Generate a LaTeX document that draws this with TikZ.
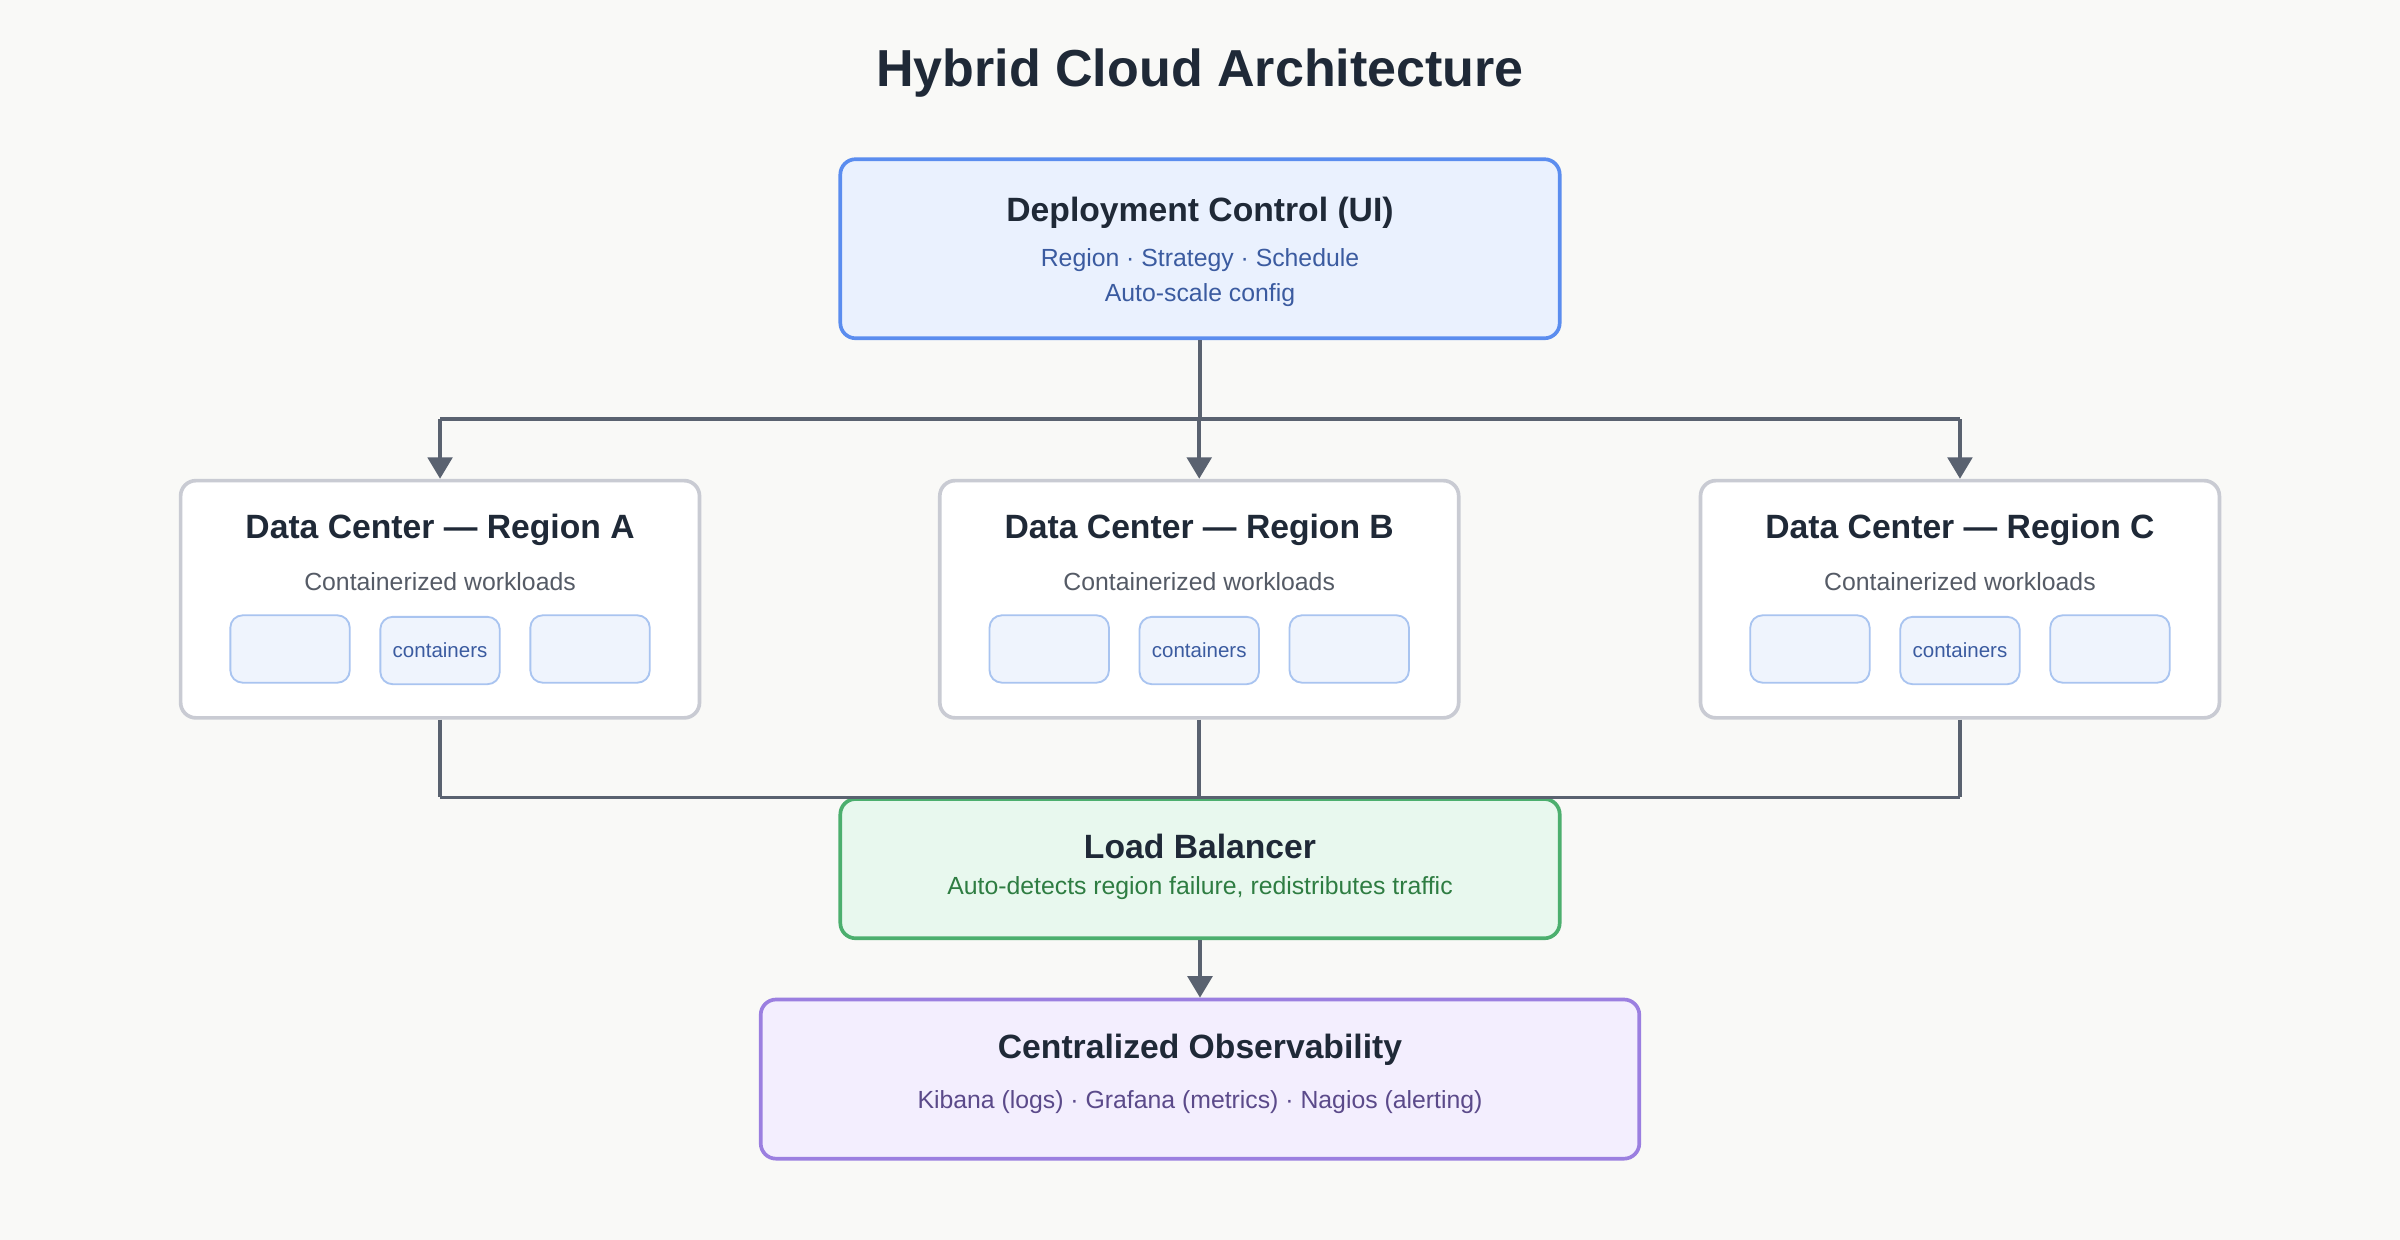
\documentclass[tikz,border=0pt]{standalone}
\usepackage{fontspec}
\setmainfont{Liberation Sans}
\usetikzlibrary{arrows.meta}
\definecolor{bg}{HTML}{F9F9F7}
\definecolor{ink}{HTML}{1F2937}
\definecolor{ln}{HTML}{5A6270}
\definecolor{bfill}{HTML}{EAF1FE}\definecolor{bdraw}{HTML}{5B8DEF}\definecolor{btext}{HTML}{3B5BA0}
\definecolor{gdraw}{HTML}{C9CBD3}\definecolor{gtext}{HTML}{555B66}
\definecolor{cfill}{HTML}{EFF4FD}\definecolor{cdraw}{HTML}{A9C4F0}
\definecolor{lfill}{HTML}{E8F8EE}\definecolor{ldraw}{HTML}{4CAF6E}\definecolor{ltext}{HTML}{2E7D42}
\definecolor{pfill}{HTML}{F3EEFE}\definecolor{pdraw}{HTML}{9B7FE0}\definecolor{ptext}{HTML}{5B4A8A}
\tikzset{
 box/.style={rectangle,rounded corners=5pt,line width=1.2pt,inner sep=0pt},
 dc/.style={box,fill=white,draw=gdraw,minimum width=169.5pt,minimum height=77.5pt},
 ct/.style={box,line width=0.6pt,rounded corners=4pt,fill=cfill,draw=cdraw,minimum width=39pt,minimum height=22pt,font=\fontsize{6.7}{7}\selectfont,text=btext},
 ttl/.style={font=\bfseries\fontsize{11}{13}\selectfont,text=ink},
 sub/.style={font=\fontsize{8.1}{9.5}\selectfont},
 line/.style={draw=ln,line width=1.25pt},
 arr/.style={line,-{Triangle[length=7pt,width=8pt]}}
}
\begin{document}
\begin{tikzpicture}[x=0.5pt,y=-0.5pt]
\fill[bg] (0,0) rectangle (1568,810);
\useasboundingbox (0,0) rectangle (1568,810);
\node[font=\bfseries\fontsize{17}{20}\selectfont,text=ink] (title) at (784,48) {Hybrid Cloud Architecture};
\node[box,fill=bfill,draw=bdraw,minimum width=235pt,minimum height=58.5pt] (dep) at (784,162.5) {};
\node[ttl] (depT) at (784,139) {Deployment Control (UI)};
\node[sub,text=btext] (depS1) at (784,170) {Region · Strategy · Schedule};
\node[sub,text=btext] (depS2) at (784,193) {Auto-scale config};
\foreach \n/\x/\l in {A/287.5/A,B/783.5/B,C/1280.5/C}{
 \node[dc] (dc\n) at (\x,391.5) {};
 \node[ttl] (dc\n T) at (\x,346) {Data Center — Region \l};
 \node[sub,text=gtext] (dc\n S) at (\x,380) {Containerized workloads};
 \node[ct] (dc\n c1) at (\x-98,424) {};
 \node[ct] (dc\n c2) at (\x,425) {containers};
 \node[ct] (dc\n c3) at (\x+98,424) {};
}
\node[box,fill=lfill,draw=ldraw,minimum width=235pt,minimum height=45.5pt] (lb) at (784,567.5) {};
\node[ttl] (lbT) at (784,553) {Load Balancer};
\node[sub,text=ltext] (lbS) at (784,580) {Auto-detects region failure, redistributes traffic};
\node[box,fill=pfill,draw=pdraw,minimum width=287pt,minimum height=52pt] (obs) at (784,705) {};
\node[ttl] (obsT) at (784,686) {Centralized Observability};
\node[sub,text=ptext] (obsS) at (784,720) {Kibana (logs) · Grafana (metrics) · Nagios (alerting)};
\coordinate (bus) at (784,274);
\coordinate (bus2) at (784,521);
\draw[line] (dep.south) -- (bus);
\draw[line] (dcA.north |- bus) -- (dcC.north |- bus);
\foreach \n in {A,B,C}{
 \draw[arr] (dc\n.north |- bus) -- (dc\n.north);
 \draw[line] (dc\n.south) -- (dc\n.south |- bus2);
}
\draw[line] (dcA.south |- bus2) -- (dcC.south |- bus2);
\draw[arr] (lb.south) -- (obs.north);
\end{tikzpicture}
\end{document}
